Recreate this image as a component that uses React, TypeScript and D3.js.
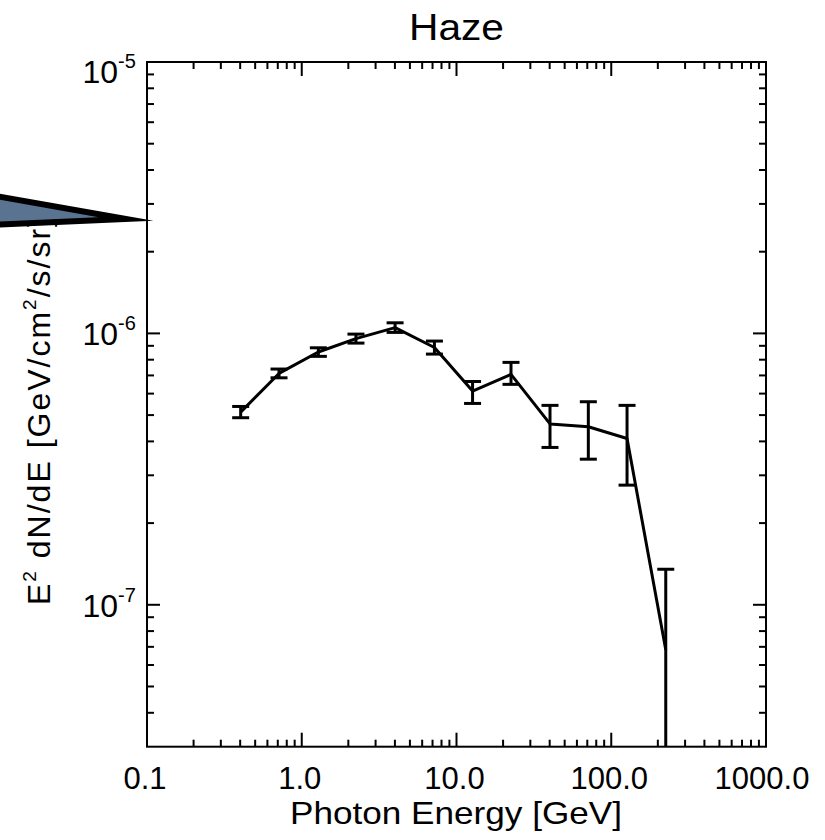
import React from "react";
import * as d3 from "d3";

const energy = [0.403, 0.713, 1.28, 2.24, 4.01, 7.2, 12.7, 22.5, 40.2, 71.1, 126.5, 225];
const flux = [5.13e-7, 7.12e-7, 8.54e-7, 9.57e-7, 1.05e-6, 8.87e-7, 6.13e-7, 7.06e-7, 4.64e-7, 4.53e-7, 4.1e-7, 6.83e-8];
const fluxUpper = [5.38e-7, 7.39e-7, 8.85e-7, 9.94e-7, 1.094e-6, 9.37e-7, 6.65e-7, 7.82e-7, 5.43e-7, 5.6e-7, 5.43e-7, 1.353e-7];
const fluxLower = [4.89e-7, 6.86e-7, 8.23e-7, 9.21e-7, 1.0085e-6, 8.39e-7, 5.52e-7, 6.49e-7, 3.8e-7, 3.44e-7, 2.76e-7, 1e-9];

const xMajorTicks = [0.1, 1, 10, 100, 1000];
const xTickLabels = ["0.1", "1.0", "10.0", "100.0", "1000.0"];
const yMajorTicks = [1e-5, 1e-6, 1e-7];
const yTickExponents = ["-5", "-6", "-7"];

const title = "Haze";
const xLabel = "Photon Energy [GeV]";

export default function App() {
  const W = 825, H = 840;
  const left = 147, right = 766, top = 62, bottom = 746.7;
  const x = d3.scaleLog().domain([0.1, 1000]).range([left, right]);
  const y = d3.scaleLog().domain([3e-8, 1e-5]).range([bottom, top]);

  const xMinor = x.ticks().filter((t) => !xMajorTicks.some((m) => Math.abs(m - t) / m < 1e-6));
  const yMinor = y.ticks().filter((t) => !yMajorTicks.some((m) => Math.abs(m - t) / m < 1e-6) && t > 3.01e-8);

  const pts = energy.map((e, i) => [x(e), y(flux[i])] as [number, number]);
  const line = d3.line()(pts) || "";

  const font = "'Liberation Sans', Arial, Helvetica, sans-serif";
  const cap = 8.5;

  return (
    <svg width={W} height={H} style={{ position: "absolute", left: 0, top: 0, background: "#fff" }} fontFamily={font}>
      <defs>
        <clipPath id="plotClip">
          <rect x={left} y={top} width={right - left} height={bottom - top} />
        </clipPath>
        <clipPath id="labelClip">
          <rect x={0} y={205} width={140} height={640} />
        </clipPath>
      </defs>
      <rect x={0} y={0} width={W} height={H} fill="#fff" />

      {/* title */}
      <text x={(left + right) / 2} y={40} fontSize={37} textAnchor="middle" fill="#000" textLength={95} lengthAdjust="spacingAndGlyphs">{title}</text>

      {/* frame */}
      <rect x={left} y={top} width={right - left} height={bottom - top} fill="none" stroke="#000" strokeWidth={2} />

      {/* x ticks */}
      {xMajorTicks.map((t) => (
        <g key={"xm" + t}>
          <line x1={x(t)} x2={x(t)} y1={bottom} y2={bottom - 14} stroke="#000" strokeWidth={2} />
          <line x1={x(t)} x2={x(t)} y1={top} y2={top + 14} stroke="#000" strokeWidth={2} />
        </g>
      ))}
      {xMinor.map((t) => (
        <g key={"xn" + t}>
          <line x1={x(t)} x2={x(t)} y1={bottom} y2={bottom - 7} stroke="#000" strokeWidth={2} />
          <line x1={x(t)} x2={x(t)} y1={top} y2={top + 7} stroke="#000" strokeWidth={2} />
        </g>
      ))}
      {/* y ticks */}
      {yMajorTicks.map((t) => (
        <g key={"ym" + t}>
          <line x1={left} x2={left + 13} y1={y(t)} y2={y(t)} stroke="#000" strokeWidth={2} />
          <line x1={right} x2={right - 13} y1={y(t)} y2={y(t)} stroke="#000" strokeWidth={2} />
        </g>
      ))}
      {yMinor.map((t) => (
        <g key={"yn" + t}>
          <line x1={left} x2={left + 7} y1={y(t)} y2={y(t)} stroke="#000" strokeWidth={2} />
          <line x1={right} x2={right - 7} y1={y(t)} y2={y(t)} stroke="#000" strokeWidth={2} />
        </g>
      ))}

      {/* x tick labels */}
      {xMajorTicks.map((t, i) => (
        <text key={"xl" + t} x={i === xMajorTicks.length - 1 ? x(t) - 4 : x(t) - 2} y={789} fontSize={31} textAnchor="middle" fill="#000">
          {xTickLabels[i]}
        </text>
      ))}
      {/* y tick labels */}
      {yMajorTicks.map((t, i) => {
        const base = Math.max(y(t) + 12, top + 21);
        return (
          <text key={"yl" + t} x={118} y={base} fontSize={32} textAnchor="end" fill="#000">
            10
            <tspan x={118} dy={-15} fontSize={20} textAnchor="start">{yTickExponents[i]}</tspan>
          </text>
        );
      })}

      {/* axis titles */}
      <text x={456} y={824} fontSize={32} textAnchor="middle" fill="#000" textLength={332} lengthAdjust="spacingAndGlyphs">{xLabel}</text>
      <g clipPath="url(#labelClip)">
        <text transform="translate(50,605) rotate(-90)" fontSize={32} fill="#000" letterSpacing={2.0}>
          E<tspan dy={-14} fontSize={19}>2</tspan>
          <tspan dy={14}> dN/dE [GeV/cm</tspan>
          <tspan dy={-14} fontSize={19}>2</tspan>
          <tspan dy={14}>/s/sr]</tspan>
        </text>
      </g>

      {/* data */}
      <g clipPath="url(#plotClip)">
        <path d={line} fill="none" stroke="#000" strokeWidth={3} strokeLinejoin="round" />
        {energy.map((e, i) => {
          const cx = x(e);
          const yt = y(fluxUpper[i]);
          const yb = y(fluxLower[i]);
          return (
            <g key={"eb" + i} stroke="#000" strokeWidth={3}>
              <line x1={cx} x2={cx} y1={yt} y2={yb} />
              <line x1={cx - cap} x2={cx + cap} y1={yt} y2={yt} />
              <line x1={cx - cap} x2={cx + cap} y1={yb} y2={yb} />
            </g>
          );
        })}
      </g>

      {/* wedge overlay */}
      <polygon points="-10,195 126,219 -10,225" fill="#5a7391" stroke="#000" strokeWidth={6} strokeLinejoin="miter" strokeMiterlimit={20} />
    </svg>
  );
}
